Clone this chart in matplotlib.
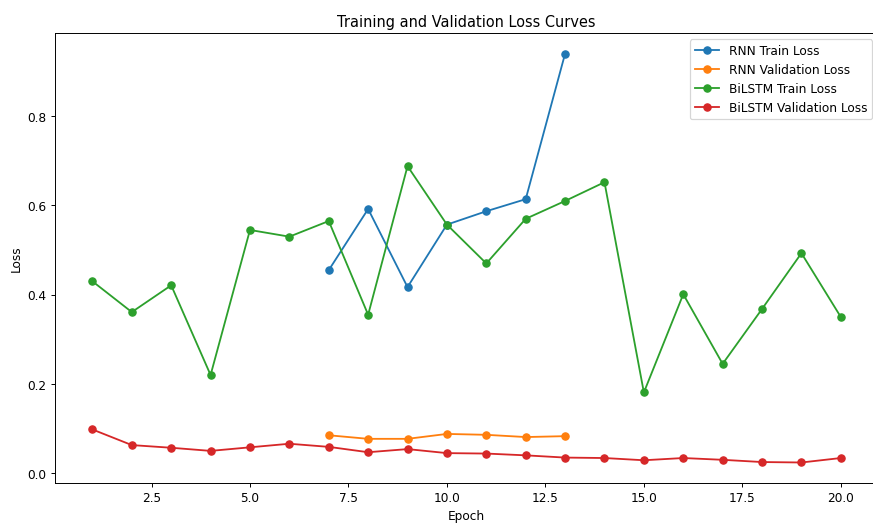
import matplotlib
matplotlib.use("Agg")
import matplotlib.pyplot as plt

# loss values
rnn_epochs = [7, 8, 9, 10, 11, 12, 13]
rnn_train = [0.455, 0.592, 0.417, 0.557, 0.587, 0.614, 0.940]
rnn_val = [0.085, 0.077, 0.077, 0.088, 0.086, 0.081, 0.083]

bilstm_epochs = list(range(1, 21))
bilstm_train = [0.430, 0.361, 0.421, 0.220, 0.545, 0.530, 0.565, 0.355, 0.688, 0.557,
                0.470, 0.570, 0.610, 0.652, 0.181, 0.401, 0.245, 0.368, 0.493, 0.350]
bilstm_val = [0.098, 0.063, 0.057, 0.050, 0.058, 0.066, 0.059, 0.047, 0.054, 0.045,
              0.044, 0.040, 0.035, 0.034, 0.029, 0.034, 0.030, 0.025, 0.024, 0.034]

fig, ax = plt.subplots(figsize=(10, 6), dpi=87.3)
ax.plot(rnn_epochs, rnn_train, marker='o', label='RNN Train Loss')
ax.plot(rnn_epochs, rnn_val, marker='o', label='RNN Validation Loss')
ax.plot(bilstm_epochs, bilstm_train, marker='o', label='BiLSTM Train Loss')
ax.plot(bilstm_epochs, bilstm_val, marker='o', label='BiLSTM Validation Loss')
ax.set_xlabel('Epoch')
ax.set_ylabel('Loss')
ax.set_title('Training and Validation Loss Curves')
ax.legend()
# the source image is cropped on the right and bottom
plt.subplots_adjust(left=0.063, right=1.006, top=0.935, bottom=0.0765)
plt.savefig('out.png')
